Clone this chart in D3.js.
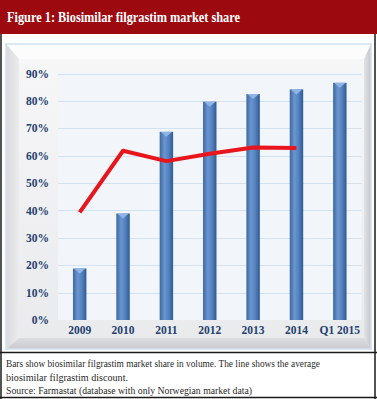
<!DOCTYPE html>
<html>
<head>
<meta charset="utf-8">
<script src="https://cdn.jsdelivr.net/npm/d3@7"></script>
<style>
  html, body { margin: 0; padding: 0; background: #fff; }
  svg { display: block; }
</style>
</head>
<body>
<svg id="chart"></svg>
<script>
// data
var categories = ["2009", "2010", "2011", "2012", "2013", "2014", "Q1 2015"];
var marketShare = [18.8, 38.9, 68.7, 79.7, 82.5, 84.2, 86.6];
var discount = [39.3, 61.8, 58.0, 60.7, 63.0, 62.8];
var yTicks = [0, 10, 20, 30, 40, 50, 60, 70, 80, 90];
var titleText = "Figure 1: Biosimilar filgrastim market share";
var captionLines = [
	"Bars show biosimilar filgrastim market share in volume. The line shows the average",
	"biosimilar filgrastim discount.",
	"Source: Farmastat (database with only Norwegian market data)"
];

var W = 377, H = 399;
var svg = d3.select("#chart").attr("width", W).attr("height", H);
var defs = svg.append("defs");

// header band
svg.append("rect").attr("x", 0).attr("y", 0).attr("width", W).attr("height", 34).attr("fill", "#9c0a10");
svg.append("text")
	.attr("x", 7).attr("y", 22)
	.attr("fill", "#fff")
	.attr("font-family", "'Liberation Serif', 'DejaVu Serif', serif")
	.attr("font-weight", "bold")
	.attr("font-size", 15)
	.attr("textLength", 233)
	.attr("lengthAdjust", "spacingAndGlyphs")
	.text(titleText);

// outer frame lines
var frame = svg.append("g").attr("stroke", "#1a1a1a").attr("stroke-width", 1.5);
frame.append("line").attr("x1", 1).attr("x2", 1).attr("y1", 34).attr("y2", H);
frame.append("line").attr("x1", W - 2).attr("x2", W - 2).attr("y1", 34).attr("y2", H);
frame.append("line").attr("x1", 0).attr("x2", W).attr("y1", 352.5).attr("y2", 352.5);
frame.append("line").attr("x1", 0).attr("x2", W).attr("y1", H - 1.5).attr("y2", H - 1.5);

// beveled chart panel
var bx0 = 6, by0 = 44, bx1 = 371, by1 = 349;
var ix0 = 19, iy0 = 59, ix1 = 364, iy1 = 338;

var faceGrad = defs.append("linearGradient").attr("id", "face").attr("x1", 0).attr("y1", 0).attr("x2", 0).attr("y2", 1);
faceGrad.append("stop").attr("offset", "0%").attr("stop-color", "#f7f7f8");
faceGrad.append("stop").attr("offset", "100%").attr("stop-color", "#e9eaec");

var leftGrad = defs.append("linearGradient").attr("id", "leftBevel").attr("x1", 0).attr("y1", 0).attr("x2", 1).attr("y2", 0);
leftGrad.append("stop").attr("offset", "0%").attr("stop-color", "#d9dadc");
leftGrad.append("stop").attr("offset", "100%").attr("stop-color", "#ececee");

var rightGrad = defs.append("linearGradient").attr("id", "rightBevel").attr("x1", 0).attr("y1", 0).attr("x2", 1).attr("y2", 0);
rightGrad.append("stop").attr("offset", "0%").attr("stop-color", "#e2e3e5");
rightGrad.append("stop").attr("offset", "100%").attr("stop-color", "#c4c6c9");

var bottomGrad = defs.append("linearGradient").attr("id", "bottomBevel").attr("x1", 0).attr("y1", 0).attr("x2", 0).attr("y2", 1);
bottomGrad.append("stop").attr("offset", "0%").attr("stop-color", "#dcdde0");
bottomGrad.append("stop").attr("offset", "100%").attr("stop-color", "#c9cbce");

var panel = svg.append("g");
panel.append("rect").attr("x", bx0).attr("y", by0).attr("width", bx1 - bx0).attr("height", by1 - by0).attr("fill", "url(#face)");
panel.append("polygon").attr("points", [[bx0, by0], [bx1, by0], [ix1, iy0], [ix0, iy0]].join(" ")).attr("fill", "#fcfcfd");
panel.append("polygon").attr("points", [[bx0, by0], [ix0, iy0], [ix0, iy1], [bx0, by1]].join(" ")).attr("fill", "url(#leftBevel)");
panel.append("polygon").attr("points", [[bx1, by0], [bx1, by1], [ix1, iy1], [ix1, iy0]].join(" ")).attr("fill", "url(#rightBevel)");
panel.append("polygon").attr("points", [[bx0, by1], [ix0, iy1], [ix1, iy1], [bx1, by1]].join(" ")).attr("fill", "url(#bottomBevel)");
panel.append("rect").attr("x", bx0).attr("y", by0).attr("width", bx1 - bx0).attr("height", by1 - by0)
	.attr("fill", "none").attr("stroke", "#cfe0f0").attr("stroke-width", 1.5);

// scales
var plotLeft = 58, plotRight = 361.5, plotTop = 72, plotBottom = 320;
var xScale = d3.scaleBand().domain(categories).range([plotLeft, plotRight]).paddingInner(0.69).paddingOuter(0.345);
var yScale = d3.scaleLinear().domain([0, 90]).range([plotBottom, 73.5]);

// plot background
svg.append("rect").attr("x", plotLeft).attr("y", plotTop).attr("width", plotRight - plotLeft).attr("height", plotBottom - plotTop)
	.attr("fill", "#f2f5f9");

// gridlines
svg.append("g").selectAll("line").data(yTicks.slice(1)).enter().append("line")
	.attr("x1", plotLeft).attr("x2", plotRight)
	.attr("y1", function(d) { return Math.round(yScale(d)) + 0.5; })
	.attr("y2", function(d) { return Math.round(yScale(d)) + 0.5; })
	.attr("stroke", "#d3e2f1").attr("stroke-width", 1);

// axes
var axisFont = "'Liberation Serif', 'DejaVu Serif', serif";
var yAxis = d3.axisLeft(yScale).tickValues(yTicks).tickSize(0).tickPadding(0).tickFormat(function(d) { return d + "%"; });
var yAxisG = svg.append("g").attr("transform", "translate(49,0)").call(yAxis);
yAxisG.select(".domain").remove();
yAxisG.selectAll("text").attr("font-family", axisFont).attr("font-weight", "bold").attr("font-size", 11.5).attr("fill", "#23406f");

var xAxis = d3.axisBottom(xScale).tickSize(0).tickPadding(0);
var xAxisG = svg.append("g").attr("transform", "translate(0,326)").call(xAxis);
xAxisG.select(".domain").remove();
xAxisG.selectAll("text").attr("font-family", axisFont).attr("font-weight", "bold").attr("font-size", 11.5).attr("fill", "#23406f");

// bars
var barGrad = defs.append("linearGradient").attr("id", "barGrad").attr("x1", 0).attr("y1", 0).attr("x2", 1).attr("y2", 0);
barGrad.append("stop").attr("offset", "0%").attr("stop-color", "#3d679f");
barGrad.append("stop").attr("offset", "35%").attr("stop-color", "#6a95cf");
barGrad.append("stop").attr("offset", "65%").attr("stop-color", "#5583c0");
barGrad.append("stop").attr("offset", "100%").attr("stop-color", "#2f5a92");

var bars = svg.append("g").selectAll("g").data(marketShare).enter().append("g");
bars.append("rect")
	.attr("x", function(d, i) { return xScale(categories[i]); })
	.attr("y", function(d) { return yScale(d); })
	.attr("width", xScale.bandwidth())
	.attr("height", function(d) { return plotBottom - yScale(d); })
	.attr("fill", "url(#barGrad)");
bars.append("polygon")
	.attr("points", function(d, i) {
		var x0 = xScale(categories[i]), w = xScale.bandwidth(), y0 = yScale(d);
		return [[x0 + 1, y0], [x0 + w - 1, y0], [x0 + w / 2, y0 + 5]].join(" ");
	})
	.attr("fill", "#8fb4e3");

// line
var line = d3.line()
	.x(function(d, i) { return xScale(categories[i]) + xScale.bandwidth() / 2; })
	.y(function(d) { return yScale(d); });
svg.append("path")
	.datum(discount)
	.attr("d", line)
	.attr("fill", "none")
	.attr("stroke", "#e8161c")
	.attr("stroke-width", 4)
	.attr("stroke-linejoin", "round");

// caption
var captionLengths = [314, 122, 246];
svg.append("g").selectAll("text").data(captionLines).enter().append("text")
	.attr("x", 6)
	.attr("y", function(d, i) { return 367 + i * 13.5; })
	.attr("font-family", axisFont)
	.attr("font-size", 10)
	.attr("fill", "#2a2a2a")
	.attr("textLength", function(d, i) { return captionLengths[i]; })
	.attr("lengthAdjust", "spacingAndGlyphs")
	.text(function(d) { return d; });
</script>
</body>
</html>
